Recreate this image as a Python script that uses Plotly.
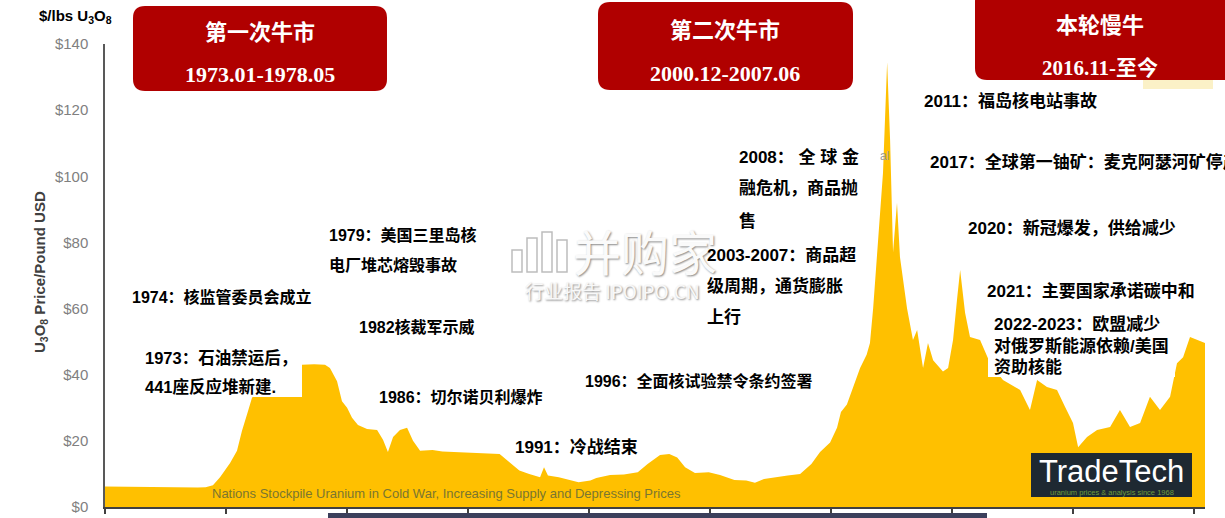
import plotly.graph_objects as go

# ---------------- data ----------------
years = [1967.90, 1969.0, 1970.2, 1971.5, 1972.6, 1973.0, 1973.37, 1973.73, 1974.24, 1974.59,
         1974.84, 1975.15, 1975.35, 1976.0, 1976.8, 1977.5, 1977.88, 1978.5, 1979.05, 1979.30,
         1979.66, 1979.91, 1980.17, 1980.42, 1980.72, 1981.18, 1981.69, 1981.99, 1982.24, 1982.50,
         1982.85, 1983.21, 1983.51, 1983.87, 1984.5, 1985.0, 1985.9, 1986.9, 1987.9, 1988.4,
         1988.9, 1989.4, 1989.95, 1990.15, 1990.35, 1990.9, 1991.5, 1991.9, 1992.5, 1992.8,
         1993.5, 1994.2, 1994.9, 1995.4, 1996.03, 1996.5, 1996.9, 1997.3, 1997.8, 1998.5,
         1999.07, 1999.8, 2000.4, 2000.84, 2001.3, 2001.8, 2002.5, 2003.13, 2003.7, 2004.14,
         2004.65, 2005.0, 2005.2, 2005.5, 2005.81, 2006.17, 2006.5, 2006.67, 2006.83, 2007.08,
         2007.33, 2007.54, 2007.69, 2007.84, 2008.04, 2008.19, 2008.55, 2008.85, 2009.06, 2009.36,
         2009.61, 2009.87, 2010.37, 2010.63, 2010.88, 2011.08, 2011.24, 2011.49, 2011.74, 2012.25,
         2012.76, 2013.41, 2014.28, 2014.78, 2015.14, 2015.64, 2016.15, 2016.56, 2016.96, 2017.22,
         2017.67, 2018.18, 2018.84, 2019.34, 2019.85, 2020.36, 2020.86, 2021.37, 2021.88, 2022.23,
         2022.54, 2022.89, 2023.25, 2023.65]
prices = [6.2, 6.1, 6.0, 5.9, 5.9, 6.0, 6.6, 9.0, 13.3, 17.0,
          23.0, 29.0, 33.0, 37.0, 40.0, 42.0, 43.0, 43.2, 43.0, 42.0,
          38.0, 32.0, 30.0, 27.0, 24.8, 23.6, 23.3, 20.3, 16.6, 21.2,
          23.3, 24.0, 20.0, 17.0, 17.2, 16.8, 16.6, 16.4, 16.0, 13.5,
          11.0, 10.0, 9.0, 12.0, 9.5, 9.0, 8.2, 7.5, 8.0, 8.8,
          9.7, 9.8, 10.5, 13.0, 15.7, 16.0, 15.0, 12.0, 10.3, 10.5,
          9.7, 8.2, 8.0, 7.3, 8.5, 9.0, 9.5, 10.0, 13.0, 16.6,
          19.5, 24.0, 28.7, 31.0, 36.0, 42.0, 46.0, 49.6, 60.0, 81.0,
          101.0, 134.5, 111.0, 77.0, 92.0, 75.6, 60.0, 50.5, 53.5, 42.0,
          49.6, 44.4, 41.0, 42.0, 50.5, 62.6, 71.7, 58.7, 51.4, 50.5,
          43.5, 38.4, 35.4, 29.3, 38.4, 36.3, 35.4, 30.2, 25.4, 18.1,
          21.2, 23.3, 24.2, 29.3, 24.2, 25.4, 33.3, 29.3, 33.3, 43.5,
          45.3, 51.4, 50.5, 49.6]

y_ticks = [0, 20, 40, 60, 80, 100, 120, 140]
y_tick_labels = [f"${v}" for v in y_ticks]

# ---------------- layout helpers ----------------
W, H = 1225, 518
L, R, T, B = 105, 1205, 44, 507


def px(x):
    return (x - L) / (R - L)


def py(y):
    return (B - y) / (B - T)


CJK = "Liberation Sans, Noto Sans CJK SC, sans-serif"
RED = "#B00000"

fig = go.Figure()
fig.add_trace(go.Scatter(
    x=years, y=prices, mode="lines",
    line=dict(width=0, color="#FFC000"),
    fill="tozeroy", fillcolor="#FFC000",
    hoverinfo="skip", showlegend=False,
))

shapes = []
annotations = []


def rrect(x0, y0, x1, y1, r, color):
    def P(x, y):
        return f"{px(x):.5f},{py(y):.5f}"
    path = (f"M {P(x0 + r, y0)} L {P(x1 - r, y0)} Q {P(x1, y0)} {P(x1, y0 + r)} "
            f"L {P(x1, y1 - r)} Q {P(x1, y1)} {P(x1 - r, y1)} "
            f"L {P(x0 + r, y1)} Q {P(x0, y1)} {P(x0, y1 - r)} "
            f"L {P(x0, y0 + r)} Q {P(x0, y0)} {P(x0 + r, y0)} Z")
    shapes.append(dict(type="path", xref="paper", yref="paper", path=path,
                       fillcolor=color, line=dict(width=0), layer="above"))


def rect(x0, y0, x1, y1, color, layer="above"):
    shapes.append(dict(type="rect", xref="paper", yref="paper",
                       x0=px(x0), x1=px(x1), y0=py(y1), y1=py(y0),
                       fillcolor=color, line=dict(width=0), layer=layer))


def text(x, y, s, size=16, color="black", family=CJK, anchor="left", bold=True, shadow=None):
    font = dict(size=size, color=color, family=family)
    if shadow:
        font["shadow"] = shadow
    annotations.append(dict(
        xref="paper", yref="paper", x=px(x), y=py(y),
        text=(f"<b>{s}</b>" if bold else s), showarrow=False,
        xanchor=anchor, yanchor="middle", font=font))


# red headline boxes
rrect(133, 6, 387, 91, 12, RED)
text(260, 33, "第一次牛市", size=22, color="white", anchor="center")
text(260, 75, "1973.01-1978.05", size=22, color="white",
     family="Liberation Serif, Times New Roman, serif", anchor="center")

rrect(598, 2, 853, 90, 12, RED)
text(725, 30, "第二次牛市", size=22, color="white", anchor="center")
text(725, 73, "2000.12-2007.06", size=22, color="white",
     family="Liberation Serif, Times New Roman, serif", anchor="center")

rect(1143, 80, 1213, 89, "#FBF1C7")
rrect(975, -10, 1240, 80, 12, RED)
text(1100, 25, "本轮慢牛", size=22, color="white", anchor="center")
text(1100, 68, "2016.11-至今", size=21, color="white",
     family="Liberation Serif, Noto Sans CJK SC, serif", anchor="center")

# white background boxes behind some labels (they hide part of the area)
rect(138, 343, 302, 397, "white")
rect(988, 313, 1175, 377, "white")

# TradeTech logo
rect(1031, 453, 1192, 497, "#1E2932")
text(1111, 471, "TradeTech", size=31, color="white", family="Liberation Sans, sans-serif",
     anchor="center", bold=False)
text(1112, 492, "uranium prices &amp; analysis since 1968", size=7.5, color="#6E9E3C",
     family="Liberation Sans, sans-serif", anchor="center", bold=False)

# dark bar at very bottom
rect(328, 513, 987, 520, "#3B3F5C")

# watermark
text(645, 250, "并购家", size=48, color="#FAFAFA", anchor="center", bold=False,
     family="Noto Sans CJK SC", shadow="1px 1px 2px #8a8a8a")
text(612, 290, "行业报告 IPOIPO.CN", size=19, color="#F8F8F8", anchor="center", bold=False,
     family="Noto Sans CJK SC", shadow="1px 1px 2px #8a8a8a")
for bx, bt in [(512, 250), (527, 238), (542, 232), (557, 240)]:
    shapes.append(dict(type="rect", xref="paper", yref="paper",
                       x0=px(bx), x1=px(bx + 10), y0=py(272), y1=py(bt),
                       fillcolor="rgba(255,255,255,0.6)", line=dict(width=1.5, color="#BDBDBD"),
                       layer="above"))

# axis titles
text(37, 16, "$/lbs U<sub>3</sub>O<sub>8</sub>", size=15, family="Liberation Sans, sans-serif")
annotations.append(dict(xref="paper", yref="paper", x=px(40), y=py(272),
                        text="<b>U<sub>3</sub>O<sub>8</sub> Price/Pound USD</b>",
                        showarrow=False, textangle=-90, xanchor="center", yanchor="middle",
                        font=dict(size=15, color="#404040", family="Liberation Sans, sans-serif")))

# event labels
text(130, 297, "1974：核监管委员会成立")
text(327, 235, "1979：美国三里岛核")
text(327, 265, "电厂堆芯熔毁事故")
text(357, 327, "1982核裁军示威")
text(143, 358, "1973：石油禁运后，", size=16.5)
text(143, 386, "441座反应堆新建.", size=16.5)
text(377, 397, "1986：切尔诺贝利爆炸")
text(513, 447, "1991：冷战结束", size=17)
text(583, 381, "1996：全面核试验禁令条约签署")
text(737, 157, "2008：&nbsp;全 球 金", size=17)
text(737, 188, "融危机，商品抛", size=17)
text(737, 221, "售", size=17)
text(705, 255, "2003-2007：商品超", size=17)
text(705, 286, "级周期，通货膨胀", size=17)
text(705, 318, "上行", size=17)
text(878, 156, "al", size=12, color="#9A9A9A", bold=False, family="Liberation Sans")
text(922, 101, "2011：福岛核电站事故", size=17)
text(928, 162, "2017：全球第一铀矿：麦克阿瑟河矿停产", size=17)
text(966, 228, "2020：新冠爆发，供给减少", size=17)
text(985, 291, "2021：主要国家承诺碳中和", size=17)
text(992, 324, "2022-2023：欧盟减少", size=17)
text(992, 346, "对俄罗斯能源依赖/美国", size=17)
text(992, 367, "资助核能", size=17)
text(210, 493, "Nations Stockpile Uranium in Cold War, Increasing Supply and Depressing Prices",
     size=13, color="#7A7630", family="Liberation Sans, sans-serif", bold=False)

fig.update_layout(
    width=W, height=H,
    margin=dict(l=L, r=W - R, t=T, b=H - B, pad=0, autoexpand=False),
    paper_bgcolor="white", plot_bgcolor="white",
    showlegend=False,
    shapes=shapes, annotations=annotations,
    xaxis=dict(range=[1967.9, 2023.65], showgrid=False, zeroline=False, automargin=False,
               showline=True, linecolor="#404040", linewidth=1.5,
               ticks="outside", ticklen=5, tickwidth=1.5, tickcolor="#404040",
               tick0=1967.9, dtick=6.133, showticklabels=False),
    yaxis=dict(range=[0, 140], tickmode="array", tickvals=y_ticks, ticktext=y_tick_labels,
               showgrid=False, zeroline=False, automargin=False,
               showline=True, linecolor="#595959", linewidth=1.5,
               ticks="", ticklabelstandoff=12,
               tickfont=dict(size=15, color="#808080", family="Liberation Sans, sans-serif")),
)

fig.write_html("out.html", config={"displayModeBar": False},
               post_script="document.body.style.margin='0';document.body.style.overflow='hidden';")
